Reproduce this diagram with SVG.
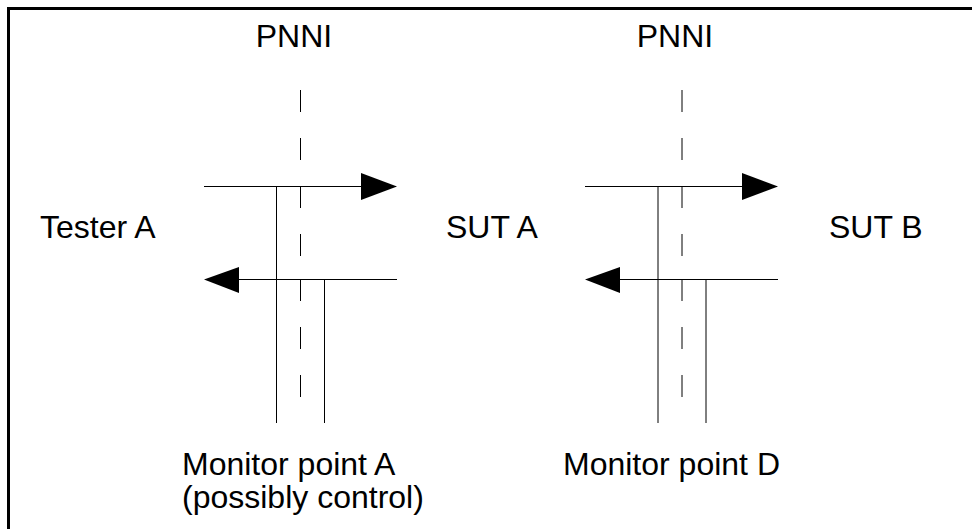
<svg xmlns="http://www.w3.org/2000/svg" width="972" height="529" viewBox="0 0 972 529">
<style>
  .lbl { font-family: "Liberation Sans", Arial, sans-serif; font-size: 32px; fill: #000; }
  .ln { stroke: #000; stroke-width: 1; fill: none; }
  .ah { fill: #000; stroke: none; }
  .frame { stroke: #000; stroke-width: 3; fill: none; }
</style>
<rect width="972" height="529" fill="#fff"/>
<path class="frame" d="M8.5,529 V8.5 H972"/>

<g id="pnni-a"><text class="lbl" x="294" y="47" text-anchor="middle">PNNI</text></g>
<g id="pnni-b"><text class="lbl" x="675" y="47" text-anchor="middle">PNNI</text></g>
<g id="tester-a"><text class="lbl" x="40" y="238">Tester A</text></g>
<g id="sut-a"><text class="lbl" x="446" y="238">SUT A</text></g>
<g id="sut-b"><text class="lbl" x="829" y="238">SUT B</text></g>
<g id="monitor-a"><text class="lbl" x="182" y="475">Monitor point A</text><text class="lbl" x="182" y="508">(possibly control)</text></g>
<g id="monitor-d"><text class="lbl" x="563" y="475">Monitor point D</text></g>

<g id="connectors">
  <!-- left interface -->
  <path class="ln" d="M300.5,90 V112 M300.5,138 V160 M300.5,186 V208 M300.5,234 V256 M300.5,279 V301 M300.5,327 V349 M300.5,375 V397"/>
  <path class="ln" d="M204,186.5 H365"/>
  <polygon class="ah" points="361,173 397,186.5 361,200"/>
  <path class="ln" d="M397,279.5 H236"/>
  <polygon class="ah" points="239,267 204,279.5 239,293"/>
  <path class="ln" d="M276.5,186 V423 M324.5,279 V423"/>
  <!-- right interface -->
  <path class="ln" d="M682,90 V112 M682,138 V160 M682,186 V208 M682,234 V256 M682,279 V301 M682,327 V349 M682,375 V397"/>
  <path class="ln" d="M585,186.5 H746"/>
  <polygon class="ah" points="742,173 778,186.5 742,200"/>
  <path class="ln" d="M778,279.5 H617"/>
  <polygon class="ah" points="620,267 585,279.5 620,293"/>
  <path class="ln" d="M658,186 V423 M706,279 V423"/>
</g>
</svg>
